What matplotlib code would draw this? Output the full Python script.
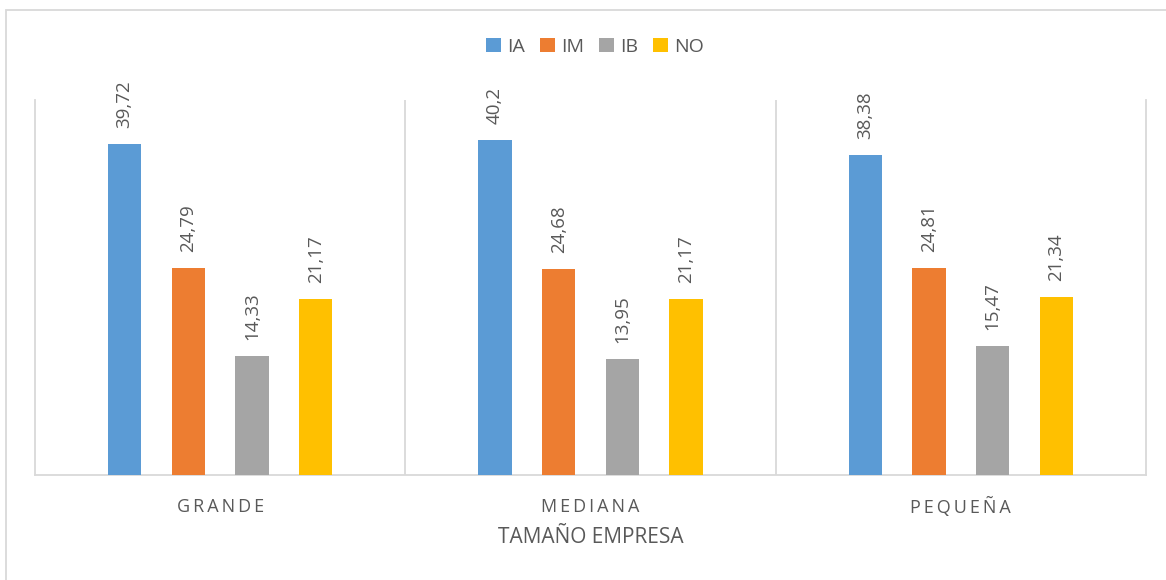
import matplotlib
matplotlib.use("Agg")
import matplotlib.pyplot as plt
from matplotlib.patches import Rectangle
import numpy as np

categories = ["GRANDE", "MEDIANA", "PEQUEÑA"]
series_names = ["IA", "IM", "IB", "NO"]
IA = [39.72, 40.2, 38.38]
IM = [24.79, 24.68, 24.81]
IB = [14.33, 13.95, 15.47]
NO = [21.17, 21.17, 21.34]
values = [IA, IM, IB, NO]
colors = ["#5B9BD5", "#ED7D31", "#A5A5A5", "#FFC000"]

plt.rcParams['font.family'] = ['Open Sans', 'DejaVu Sans']
txt = "#595959"
grid = "#D9D9D9"

fig = plt.figure(figsize=(11.66, 5.8), dpi=100)
fig.patches.append(Rectangle((6/1166, -0.1), 1.2, 1 - 10/580 + 0.1, transform=fig.transFigure,
                             fill=False, edgecolor=grid, linewidth=1.3))
ax = fig.add_axes([35/1166, 1 - 475/580, (1146 - 35)/1166, (475 - 100)/580])

x = np.arange(len(categories))
w = 0.09
offsets = [-0.258, -0.086, 0.086, 0.258]
for name, vals, c, off in zip(series_names, values, colors, offsets):
    bars = ax.bar(x + off, vals, width=w, color=c, label=name, zorder=3)
    for b, v in zip(bars, vals):
        ax.annotate(f"{v}".replace(".", ","), (b.get_x() + b.get_width() / 2, v),
                    xytext=(0, 16), textcoords="offset pixels",
                    rotation=90, ha="center", va="bottom", fontsize=13.5, color=txt)

ax.set_xlim(-0.5, 2.5)
ax.set_ylim(0, 45)
ax.set_yticks([])
ax.set_xticks(x)
ax.set_xticklabels(["\u2009".join(list(c)) for c in categories], fontsize=13, color=txt,
                   va="baseline")
ax.tick_params(axis="x", length=0, pad=27)
for s in ["left", "right", "bottom"]:
    ax.spines[s].set_color(grid)
    ax.spines[s].set_linewidth(1.3)
ax.spines["top"].set_visible(False)
for xv in [0.5, 1.5]:
    ax.axvline(xv, color=grid, linewidth=1.3, zorder=1)

fig.text(591/1166, 1 - 543/580, "TAMAÑO EMPRESA", fontsize=15, color=txt,
         ha="center", va="baseline")

leg = fig.legend(loc="center", bbox_to_anchor=(595/1166, 1 - 47/580), ncol=4, frameon=False,
                 fontsize=14, handlelength=0.75, handleheight=0.75, handletextpad=0.3,
                 columnspacing=0.8, labelcolor=txt)

fig.savefig("out.png", dpi=100)
